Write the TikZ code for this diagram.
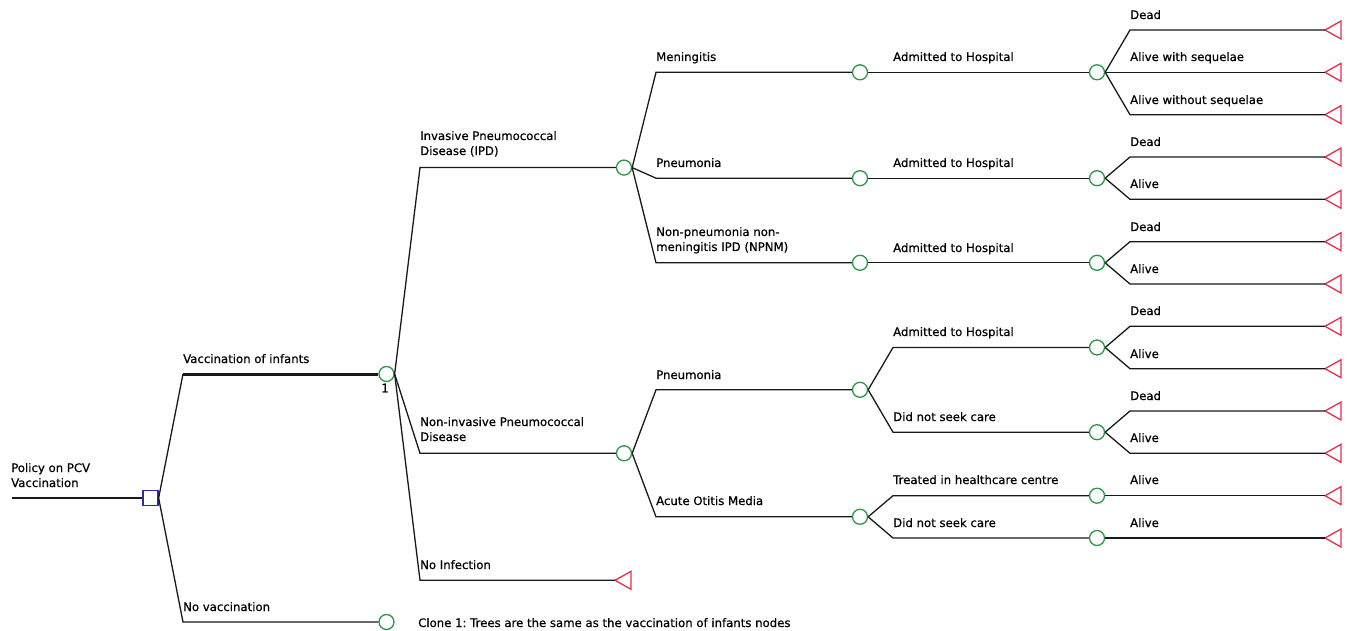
\documentclass[tikz,border=0pt]{standalone}
\usepackage{fontspec}
\setmainfont{DejaVu Sans}[FakeBold=0.6]
\frenchspacing
\definecolor{cgreen}{RGB}{46,150,72}
\definecolor{tred}{RGB}{230,48,74}
\definecolor{dblue}{RGB}{44,44,170}
\definecolor{lnc}{RGB}{25,25,25}
\newcommand{\twolines}[2]{\begin{tabular}[b]{@{}l@{}}#1\\#2\end{tabular}}
\begin{document}
\begin{tikzpicture}[x=1pt,y=-1pt,
  every node/.style={font=\fontsize{11.7}{15}\selectfont},
  br/.style={draw=lnc, line width=1.3pt},
  thickbr/.style={draw=lnc, line width=3pt},
  chance/.style={circle, draw=cgreen, line width=1.3pt, fill=white, minimum size=15pt, inner sep=0pt},
  decision/.style={rectangle, draw=dblue, line width=1.3pt, fill=white, minimum size=15pt, inner sep=0pt},
  lab/.style={anchor=base west, inner sep=0pt},
  termtri/.style={draw=tred, line width=1.3pt, fill=white, line join=miter}]
\useasboundingbox (0,0) rectangle (1349,631);

% column corner x positions
\coordinate (x1) at (183,0);
\coordinate (x2) at (420,0);
\coordinate (x3) at (656,0);
\coordinate (x4) at (893,0);
\coordinate (x5) at (1130,0);

% root
\coordinate (start) at (12,498);
\node[decision] (root) at (150.5,498) {};

% level 1
\node[chance] (n1) at (386.5,374) {};
\node[chance] (n2) at (386.5,622) {};

% level 2
\node[chance] (ipd) at (624,167.6) {};
\node[chance] (noninv) at (624,453.3) {};
\coordinate (tinf) at (615,580.3);

% level 3
\node[chance] (men) at (860,72.3) {};
\node[chance] (pnei) at (860,178.2) {};
\node[chance] (npnm) at (860,262.8) {};
\node[chance] (pnen) at (860,389.8) {};
\node[chance] (aom) at (860,516.8) {};

% level 4
\node[chance] (h1) at (1097,72.3) {};
\node[chance] (h2) at (1097,178.2) {};
\node[chance] (h3) at (1097,262.8) {};
\node[chance] (h4) at (1097,347.5) {};
\node[chance] (h5) at (1097,432.2) {};
\node[chance] (h6) at (1097,495.7) {};
\node[chance] (h7) at (1097,538) {};

% terminals
\foreach \i/\yy in {0/30,1/72.3,2/114.7,3/157,4/199.3,5/241.7,6/284,7/326.3,8/368.7,9/411,10/453.3,11/495.7,12/538}{
  \coordinate (t\i) at (1325,\yy);
}
\foreach \c in {t0,t1,t2,t3,t4,t5,t6,t7,t8,t9,t10,t11,t12,tinf}{
  \draw[termtri] (\c) -- ++(16,-9) -- ++(0,18) -- cycle;
}

% connectors
\draw[br] (start) -- (root.west);
\draw[br] (root.east) -- (x1 |- n1);
\draw[thickbr] (x1 |- n1) -- (n1.west);
\draw[br] (root.east) -- (x1 |- n2) -- (n2.west);

\draw[br] (n1.east) -- (x2 |- ipd) -- (ipd.west);
\draw[br] (n1.east) -- (x2 |- noninv) -- (noninv.west);
\draw[br] (n1.east) -- (x2 |- tinf) -- (tinf);

\draw[br] (ipd.east) -- (x3 |- men) -- (men.west);
\draw[br] (ipd.east) -- (x3 |- pnei) -- (pnei.west);
\draw[br] (ipd.east) -- (x3 |- npnm) -- (npnm.west);
\draw[br] (noninv.east) -- (x3 |- pnen) -- (pnen.west);
\draw[br] (noninv.east) -- (x3 |- aom) -- (aom.west);

\draw[br] (men.east) -- (h1.west);
\draw[br] (pnei.east) -- (h2.west);
\draw[br] (npnm.east) -- (h3.west);
\draw[br] (pnen.east) -- (x4 |- h4) -- (h4.west);
\draw[br] (pnen.east) -- (x4 |- h5) -- (h5.west);
\draw[br] (aom.east) -- (x4 |- h6) -- (h6.west);
\draw[br] (aom.east) -- (x4 |- h7) -- (h7.west);

\draw[br] (h1.east) -- (x5 |- t0) -- (t0);
\draw[br] (h1.east) -- (t1);
\draw[br] (h1.east) -- (x5 |- t2) -- (t2);
\draw[br] (h2.east) -- (x5 |- t3) -- (t3);
\draw[br] (h2.east) -- (x5 |- t4) -- (t4);
\draw[br] (h3.east) -- (x5 |- t5) -- (t5);
\draw[br] (h3.east) -- (x5 |- t6) -- (t6);
\draw[br] (h4.east) -- (x5 |- t7) -- (t7);
\draw[br] (h4.east) -- (x5 |- t8) -- (t8);
\draw[br] (h5.east) -- (x5 |- t9) -- (t9);
\draw[br] (h5.east) -- (x5 |- t10) -- (t10);
\draw[br] (h6.east) -- (t11);
\draw[br] (h7.east) -- (t12);

% labels
\node[lab] (lroot) at (11,487) {\twolines{Policy on PCV}{Vaccination}};
\node[lab] (lvac) at (183,363) {Vaccination of infants};
\node[lab] (lnovac) at (183,611) {No vaccination};
\node[inner sep=0pt] (lone) at (385,388) {1};
\node[lab] (lclone) at (418,627) {Clone 1: Trees are the same as the vaccination of infants nodes};

\node[lab] (lipd) at (420,155) {\twolines{Invasive Pneumococcal}{Disease (IPD)}};
\node[lab] (lnoninv) at (420,441) {\twolines{Non-invasive Pneumococcal}{Disease}};
\node[lab] (lnoinf) at (420,569) {No Infection};

\node[lab] (lmen) at (656,61) {Meningitis};
\node[lab] (lpnei) at (656,167) {Pneumonia};
\node[lab] (lnpnm) at (656,251) {\twolines{Non-pneumonia non-}{meningitis IPD (NPNM)}};
\node[lab] (lpnen) at (656,379) {Pneumonia};
\node[lab] (laom) at (656,505) {Acute Otitis Media};

\node[lab] (lh1) at (893,61) {Admitted to Hospital};
\node[lab] (lh2) at (893,167) {Admitted to Hospital};
\node[lab] (lh3) at (893,252) {Admitted to Hospital};
\node[lab] (lh4) at (893,336) {Admitted to Hospital};
\node[lab] (lh5) at (893,421) {Did not seek care};
\node[lab] (lh6) at (893,484) {Treated in healthcare centre};
\node[lab] (lh7) at (893,527) {Did not seek care};

\node[lab] (l0) at (1130,19) {Dead};
\node[lab] (l1) at (1130,61) {Alive with sequelae};
\node[lab] (l2) at (1130,104) {Alive without sequelae};
\node[lab] (l3) at (1130,146) {Dead};
\node[lab] (l4) at (1130,188) {Alive};
\node[lab] (l5) at (1130,231) {Dead};
\node[lab] (l6) at (1130,273) {Alive};
\node[lab] (l7) at (1130,315) {Dead};
\node[lab] (l8) at (1130,358) {Alive};
\node[lab] (l9) at (1130,400) {Dead};
\node[lab] (l10) at (1130,442) {Alive};
\node[lab] (l11) at (1130,484) {Alive};
\node[lab] (l12) at (1130,527) {Alive};
\end{tikzpicture}
\end{document}
